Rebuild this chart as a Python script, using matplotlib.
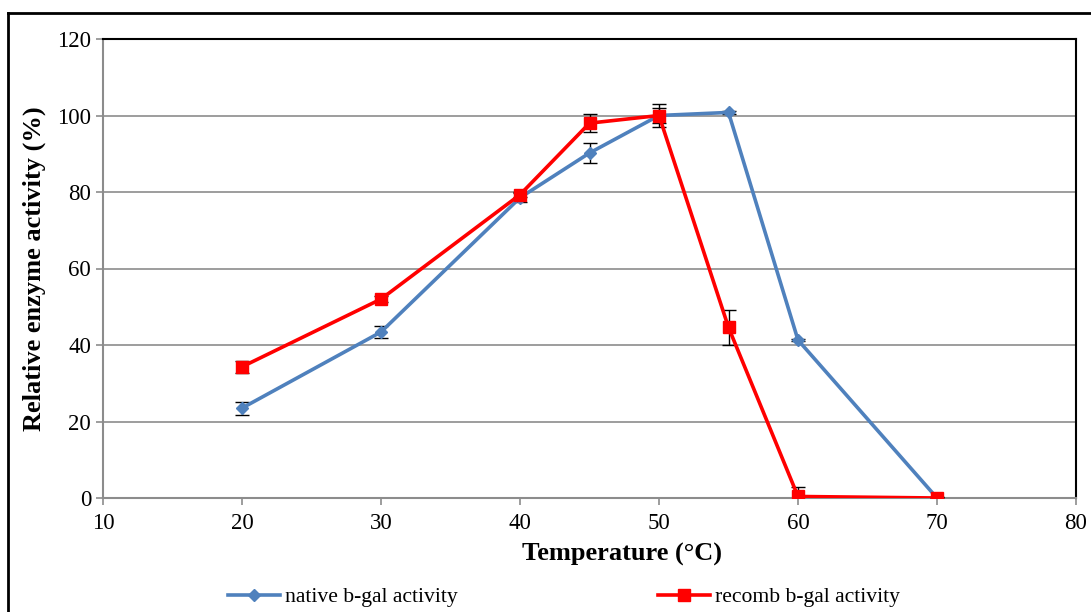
import matplotlib.pyplot as plt
from matplotlib.lines import Line2D

temps = [20, 30, 40, 45, 50, 55, 60, 70]
native = [23.5, 43.4, 78.5, 90.2, 100.0, 100.8, 41.3, 0.0]
native_err = [1.7, 1.5, 1.2, 2.6, 2.0, 0.5, 0.3, 0.2]
recomb = [34.3, 52.0, 79.3, 98.0, 100.0, 44.6, 0.4, 0.0]
recomb_err = [1.5, 0.7, 0.6, 2.4, 2.9, 4.6, 2.4, 0.2]

plt.rcParams['font.family'] = ['Liberation Serif', 'DejaVu Serif']

fig = plt.figure(figsize=(10.91, 6.12), dpi=100)
ax = fig.add_axes([103 / 1091, 1 - 498 / 612, (1076 - 103) / 1091, (498 - 39) / 612])

blue = '#4f81bd'
red = '#ff0000'

ax.errorbar(temps, native, yerr=native_err, fmt='none', ecolor='black',
            elinewidth=1, capsize=5, capthick=1, zorder=3)
ax.errorbar(temps, recomb, yerr=recomb_err, fmt='none', ecolor='black',
            elinewidth=1, capsize=5, capthick=1, zorder=3)
ax.plot(temps, native, color=blue, lw=2.6, marker='D', ms=6,
        label='native b-gal activity', zorder=4)
ax.plot(temps, recomb, color=red, lw=2.6, marker='s', ms=8,
        label='recomb b-gal activity', zorder=5)

ax.set_xlim(10, 80)
ax.set_ylim(0, 120)
ax.set_xticks(range(10, 81, 10))
ax.set_yticks(range(0, 121, 20))
ax.yaxis.grid(True, color='#8c8c8c', lw=1.2)
ax.set_axisbelow(True)

for side in ['left', 'bottom']:
    ax.spines[side].set_color('#8c8c8c')
    ax.spines[side].set_linewidth(1.5)
for side in ['top', 'right']:
    ax.spines[side].set_color('black')
    ax.spines[side].set_linewidth(1.5)

ax.tick_params(axis='both', labelsize=16.5, colors='#8c8c8c', labelcolor='black',
               width=1.2, length=5)
ax.tick_params(axis='x', pad=6)

ax.set_xlabel('Temperature (°C)', fontsize=19, fontweight='bold')
ax.xaxis.set_label_coords(0.533, -0.098)
ax.set_ylabel('Relative enzyme activity (%)', fontsize=19, fontweight='bold', labelpad=8)

fig.legend(loc='center left', bbox_to_anchor=(228 / 1091, 1 - 597 / 612), ncol=2,
           frameon=False, fontsize=15.6, handlelength=2.4, handletextpad=0.25,
           columnspacing=9.2, borderaxespad=0, borderpad=0)

# outer chart frame
fig.add_artist(Line2D([8 / 1091, 8 / 1091], [-0.1, 1 - 13 / 612], color='black', lw=2,
                      transform=fig.transFigure))
fig.add_artist(Line2D([8 / 1091, 1.1], [1 - 13 / 612, 1 - 13 / 612], color='black', lw=2,
                      transform=fig.transFigure))

fig.savefig('out.png', dpi=100)
